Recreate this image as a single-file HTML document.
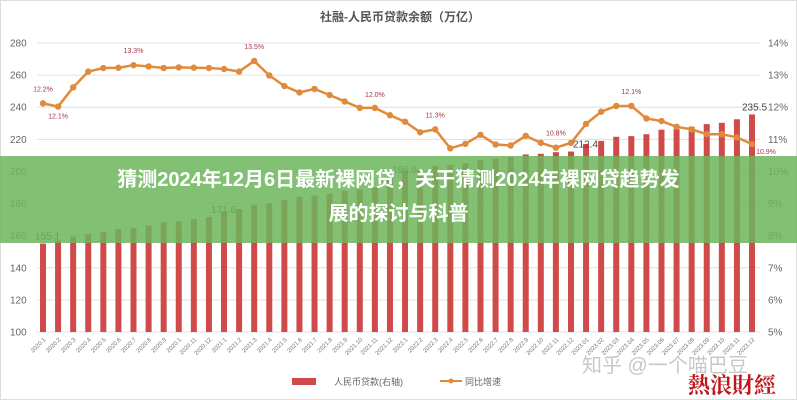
<!DOCTYPE html>
<html><head><meta charset="utf-8">
<style>
html,body{margin:0;padding:0;background:#fff;}
body{width:797px;height:400px;overflow:hidden;position:relative;font-family:"Liberation Sans","Noto Sans CJK SC",sans-serif;}
#banner{position:absolute;left:0;top:156px;width:797px;height:87px;background:rgba(108,182,92,0.85);}
#banner-text{position:absolute;left:0;top:163px;width:797px;text-align:center;color:#fff;font-weight:bold;font-size:20px;line-height:34px;font-family:"Liberation Sans","Noto Sans CJK SC",sans-serif;}
</style></head><body>
<svg id="chart" width="797" height="400" style="position:absolute;left:0;top:0">
<rect x="0.5" y="0.5" width="796" height="399" fill="#fff" stroke="#ddd"/>
<text x="400" y="21" text-anchor="middle" font-size="12" font-weight="bold" fill="#555" font-family="Liberation Sans, Noto Sans CJK SC, sans-serif">社融-人民币贷款余额（万亿）</text>
<g id="grid"></g><g id="bars"></g><g id="line"></g><g id="labels"></g><g id="xlabels"></g>
<g>
<rect x="292" y="378" width="24" height="7" fill="#d04a4a"/>
<text x="334" y="385" font-size="9" fill="#666" font-family="Liberation Sans, Noto Sans CJK SC, sans-serif">人民币贷款(右轴)</text>
<line x1="440" y1="381" x2="462" y2="381" stroke="#e08a3c" stroke-width="2"/>
<circle cx="451" cy="381" r="2.5" fill="#e08a3c"/>
<text x="465" y="385" font-size="9" fill="#666" font-family="Liberation Sans, Noto Sans CJK SC, sans-serif">同比增速</text>
</g>
<text x="582" y="372" font-size="20" fill="#c8c8c8" font-family="Liberation Sans, Noto Sans CJK SC, sans-serif">知乎 @一个喵巴豆</text>
<text x="688" y="393" font-size="22" font-weight="bold" fill="#c0161c" font-family="Noto Serif CJK SC, Noto Sans CJK SC, serif">熱浪財經</text>
</svg>
<div id="banner"></div>
<div id="banner-text">猜测2024年12月6日最新裸网贷，关于猜测2024年裸网贷趋势发<br>展的探讨与科普</div>
<script>
const months = ["2020.1","2020.2","2020.3","2020.4","2020.5","2020.6","2020.7","2020.8","2020.9","2020.1","2020.11","2020.12",
"2021.1","2021.2","2021.3","2021.4","2021.5","2021.6","2021.7","2021.8","2021.9","2021.10","2021.11","2021.12",
"2022.1","2022.2","2022.3","2022.4","2022.5","2022.6","2022.7","2022.8","2022.9","2022.10","2022.11","2022.12",
"2023.01","2023.02","2023.03","2023.04","2023.05","2023.06","2023.07","2023.08","2023.09","2023.10","2023.11","2023.12"];
const loans = [155.1,157.0,159.4,161.0,162.4,164.1,165.0,166.4,168.3,169.0,170.4,171.6,
175.2,176.6,179.0,180.3,182.1,184.2,185.0,186.2,188.0,188.8,190.1,196.6,
200.2,201.0,203.4,204.0,205.1,207.2,207.9,209.1,210.6,211.0,212.0,212.4,
217.1,219.0,221.6,222.0,223.2,226.0,226.3,227.8,229.5,230.3,232.5,235.5];
const growth = [12.12,12.02,12.62,13.11,13.22,13.23,13.31,13.27,13.22,13.24,13.23,13.22,
13.19,13.11,13.44,12.99,12.66,12.46,12.57,12.38,12.18,11.98,11.98,11.75,
11.55,11.22,11.31,10.72,10.86,11.14,10.84,10.81,11.11,10.89,10.74,10.89,
11.48,11.86,12.04,12.04,11.65,11.57,11.39,11.31,11.16,11.16,11.06,10.85];
const leftTicks = [100,120,140,160,180,200,220,240,260,280];
const rightTicks = ["5%","6%","7%","8%","9%","10%","11%","12%","13%","14%"];
const barLabels = [[0,"155.1"],[11,"171.6"],[23,"196.6"],[35,"212.4"],[47,"235.5"]];
const pctLabels = [[0,"12.2%",-12],[1,"12.1%",12],[6,"13.3%",-12],[14,"13.5%",-12],[22,"12.0%",-11],[26,"11.3%",-12],[34,"10.8%",-12],[39,"12.1%",-12],[47,"10.9%",10]];

const NS="http://www.w3.org/2000/svg";
const X0=43, DX=(752-43)/47, Y280=43, Y100=332;
function xs(i){return X0+i*DX;}
function yl(v){return Y100-(v-100)*(Y100-Y280)/180;}
function yr(p){return Y100-(p-5)*(Y100-Y280)/9;}
function mk(tag,attrs,parent){const e=document.createElementNS(NS,tag);for(const k in attrs)e.setAttribute(k,attrs[k]);parent.appendChild(e);return e;}
const F="Liberation Sans, Noto Sans CJK SC, sans-serif";
const grid=document.getElementById('grid');
leftTicks.forEach((t,i)=>{
  const y=yl(t);
  const l=mk('line',{x1:37,x2:760,y1:y,y2:y,stroke:'#e0e0e0','stroke-width':1},grid);
  
  
  const a=mk('text',{x:10,y:y+3.5,'font-size':10,fill:'#666','font-family':F},grid);a.textContent=t;
  
  
  const b=mk('text',{x:768,y:y+3.5,'font-size':10,fill:'#666','font-family':F},grid);b.textContent=rightTicks[i];
  
  
});
const bars=document.getElementById('bars');
loans.forEach((v,i)=>{
  const y=yl(v);
  const r=mk('rect',{x:xs(i)-3,y:y,width:6,height:Y100-y,fill:'#d04a4a'},bars);
  
  
});
const line=document.getElementById('line');
const pts=growth.map((g,i)=>xs(i)+','+yr(g)).join(' ');
const pl=mk('polyline',{points:pts,fill:'none',stroke:'#e08a3c','stroke-width':2.5},line);


growth.forEach((g,i)=>{
  const c=mk('circle',{cx:xs(i),cy:yr(g),r:3.2,fill:'#e08a3c'},line);
  
  
});
const labels=document.getElementById('labels');
barLabels.forEach(([i,t])=>{
  const e=mk('text',{x:xs(i)+(i==47?-10:i==0?-8:2),y:yl(loans[i])-4,'font-size':10,fill:'#444','font-family':F},labels);e.textContent=t;
  
  
});
pctLabels.forEach(([i,t,dy])=>{
  const e=mk('text',{x:xs(i)+(i==47?14:0),y:yr(growth[i])+dy,'font-size':7,fill:'#a3344a','text-anchor':'middle','font-family':F},labels);e.textContent=t;
  
  
});
const xl=document.getElementById('xlabels');
months.forEach((m,i)=>{
  const x=xs(i)+3,y=340;
  const e=mk('text',{x:x,y:y,'font-size':6,fill:'#777','text-anchor':'end','font-family':F,transform:'rotate(-45 '+x+' '+y+')'},xl);e.textContent=m;
  
  
});
</script>
</body></html>
